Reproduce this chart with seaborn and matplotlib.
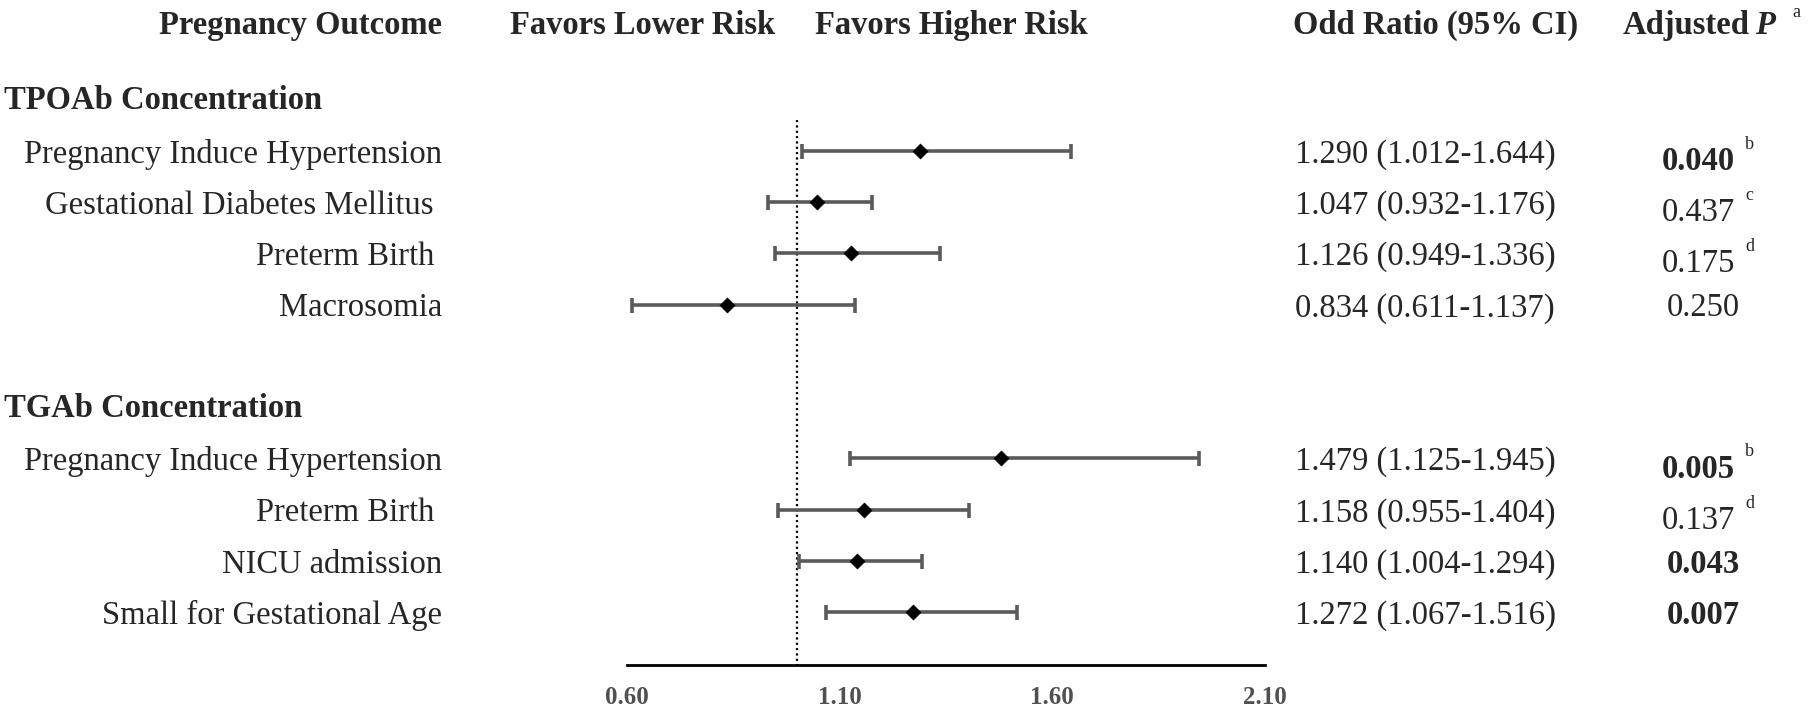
import matplotlib
matplotlib.use('Agg')
import matplotlib.pyplot as plt
import matplotlib.transforms as mtransforms
import pandas as pd
import seaborn as sns

# Datos del forest plot
grupos = ['TPOAb Concentration', 'TGAb Concentration']
desenlaces = ['Pregnancy Induce Hypertension', 'Gestational Diabetes Mellitus ', 'Preterm Birth ', 'Macrosomia',
              'Pregnancy Induce Hypertension', 'Preterm Birth ', 'NICU admission', 'Small for Gestational Age']
grupo_idx = [0, 0, 0, 0, 1, 1, 1, 1]
odds_ratio = [1.290, 1.047, 1.126, 0.834, 1.479, 1.158, 1.140, 1.272]
ic_inf = [1.012, 0.932, 0.949, 0.611, 1.125, 0.955, 1.004, 1.067]
ic_sup = [1.644, 1.176, 1.336, 1.137, 1.945, 1.404, 1.294, 1.516]
p_ajustada = ['0.040', '0.437', '0.175', '0.250', '0.005', '0.137', '0.043', '0.007']
p_nota = ['b', 'c', 'd', '', 'b', 'd', '', '']
p_negrita = [True, False, False, False, True, False, True, True]
ticks_x = [0.60, 1.10, 1.60, 2.10]
ticks_txt = ['0.60', '1.10', '1.60', '2.10']

df = pd.DataFrame({'desenlace': desenlaces, 'grupo': grupo_idx, 'or': odds_ratio,
                   'inf': ic_inf, 'sup': ic_sup})
# cada grupo deja dos filas libres (encabezado + hueco)
df['fila'] = df.index + 2 * df['grupo']

sns.set_style('white')
plt.rcParams['font.family'] = ['Liberation Serif', 'DejaVu Serif']

W, H = 1811, 709
fig = plt.figure(figsize=(W / 100, H / 100), dpi=100)
# eje: 0.60 -> x=627px, 2.10 -> x=1265px, linea base en y=665px
ax = fig.add_axes([627 / W, (H - 665) / H, (1265 - 627) / W, 665 / H])
ax.set_xlim(0.6, 2.1)
ax.set_ylim(10.03, -2.94)

ax.vlines(1.0, -0.6, 10.03, colors='black', linestyles=(0, (1, 1.4)), linewidth=1.6, zorder=1)
ax.errorbar(df['or'], df['fila'], xerr=[df['or'] - df['inf'], df['sup'] - df['or']],
            fmt='none', ecolor='#5a5a5a', elinewidth=2.6, capsize=5.4, capthick=2.6, zorder=2)
sns.scatterplot(data=df, x='or', y='fila', marker='D', s=58, color='black',
                edgecolor='black', linewidth=0.5, ax=ax, zorder=3, legend=False)

ax.set_xlabel('')
ax.set_ylabel('')
ax.set_yticks([])
ax.set_xticks(ticks_x)
ax.set_xticklabels(ticks_txt, fontsize=18, fontweight='bold', color='#505050')
ax.tick_params(axis='x', direction='out', length=5, width=2, pad=10, color='black')
for lado in ['left', 'top', 'right']:
    ax.spines[lado].set_visible(False)
ax.spines['bottom'].set_linewidth(2)
ax.spines['bottom'].set_color('black')

tr = mtransforms.blended_transform_factory(fig.transFigure, ax.transData)
fs = 23.5

# encabezados
y_head = -2.52
ax.text(442 / W, y_head, 'Pregnancy Outcome', transform=tr, ha='right', va='center_baseline',
        fontsize=fs, fontweight='bold')
ax.text(510 / W, y_head, 'Favors Lower Risk', transform=tr, ha='left', va='center_baseline',
        fontsize=fs, fontweight='bold')
ax.text(815 / W, y_head, 'Favors Higher Risk', transform=tr, ha='left', va='center_baseline',
        fontsize=fs, fontweight='bold')
ax.text(1293 / W, y_head, 'Odd Ratio (95% CI)', transform=tr, ha='left', va='center_baseline',
        fontsize=fs, fontweight='bold')
ax.text(1623 / W, y_head, 'Adjusted', transform=tr, ha='left', va='center_baseline',
        fontsize=fs, fontweight='bold')
ax.text(1775 / W, y_head, 'P', transform=tr, ha='right', va='center_baseline',
        fontsize=fs, fontweight='bold', fontstyle='italic')
ax.text(1792 / W, -2.6, 'a', transform=tr, ha='left', va='baseline', fontsize=13)

# grupos
for g, nombre in enumerate(grupos):
    primera = df.loc[df['grupo'] == g, 'fila'].min()
    ax.text(4 / W, primera - 1.04, nombre, transform=tr, ha='left', va='center_baseline',
            fontsize=fs, fontweight='bold')

# filas
for i, r in df.iterrows():
    y = r['fila']
    ax.text(442 / W, y, r['desenlace'], transform=tr, ha='right', va='center_baseline', fontsize=fs)
    ax.text(1295 / W, y, f"{r['or']:.3f} ({r['inf']:.3f}-{r['sup']:.3f})", transform=tr,
            ha='left', va='center_baseline', fontsize=fs)
    peso = 'bold' if p_negrita[i] else 'normal'
    if p_nota[i]:
        ax.text(1662 / W, y + 0.14, p_ajustada[i], transform=tr, ha='left', va='center_baseline',
                fontsize=fs, fontweight=peso)
        ax.text(1745 / W, y - 0.04, p_nota[i], transform=tr, ha='left', va='baseline', fontsize=13)
    else:
        ax.text(1667 / W, y, p_ajustada[i], transform=tr, ha='left', va='center_baseline',
                fontsize=fs, fontweight=peso)

fig.savefig('out.png', dpi=100, facecolor='white')
